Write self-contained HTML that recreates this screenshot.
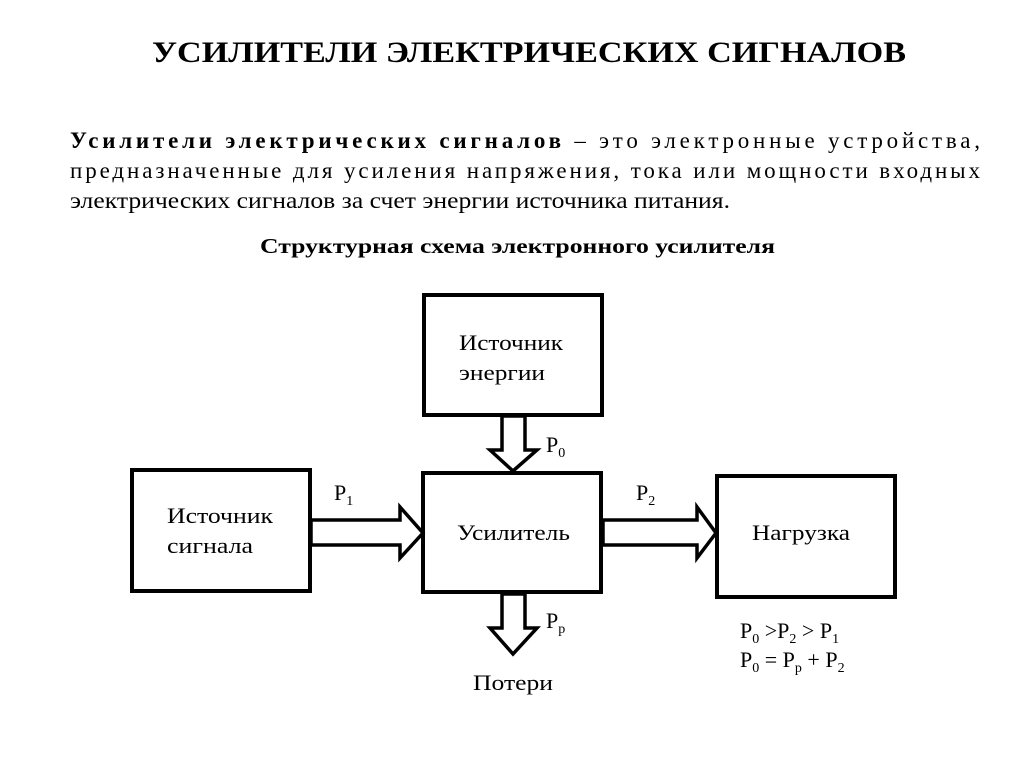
<!DOCTYPE html>
<html><head><meta charset="utf-8"><style>html,body{margin:0;padding:0;background:#fff}</style></head>
<body>
<svg width="1024" height="767" viewBox="0 0 1024 767" xmlns="http://www.w3.org/2000/svg" font-family="Liberation Serif, serif" fill="#000">
<rect width="1024" height="767" fill="#fff"/>
<text x="152" y="62" font-size="30" font-weight="bold" textLength="754" lengthAdjust="spacingAndGlyphs">УСИЛИТЕЛИ ЭЛЕКТРИЧЕСКИХ СИГНАЛОВ</text>
<g font-size="23">
<text x="70" y="148" textLength="910" lengthAdjust="spacing"><tspan font-weight="bold">Усилители  электрических  сигналов</tspan>  –  это  электронные  устройства,</text>
<text x="70" y="178" textLength="910" lengthAdjust="spacing">предназначенные  для  усиления  напряжения,  тока  или  мощности  входных</text>
<text x="70" y="208" textLength="660" lengthAdjust="spacingAndGlyphs">электрических сигналов за счет энергии источника питания.</text>
</g>
<text x="260" y="253" font-size="21" font-weight="bold" textLength="515" lengthAdjust="spacingAndGlyphs">Структурная схема электронного усилителя</text>
<g fill="none" stroke="#000" stroke-width="4">
<rect x="424" y="295" width="178" height="120"/>
<rect x="132" y="470" width="178" height="121"/>
<rect x="423" y="473" width="178" height="119"/>
<rect x="717" y="476" width="178" height="121"/>
</g>
<g fill="#fff" stroke="#000" stroke-width="3.5" stroke-linejoin="miter">
<polygon points="502,416 525,416 525,450 537,450 513,471 490,450 502,450"/>
<polygon points="502,594 525,594 525,628 537,628 513,654 490,628 502,628"/>
<polygon points="311,520 400,520 400,507 423,533 400,558 400,545 311,545"/>
<polygon points="603,520 697,520 697,507 716,533 697,558 697,545 603,545"/>
</g>
<g font-size="22">
<text x="459" y="350" textLength="104" lengthAdjust="spacingAndGlyphs">Источник</text>
<text x="459" y="380" textLength="86" lengthAdjust="spacingAndGlyphs">энергии</text>
<text x="167" y="523" textLength="106" lengthAdjust="spacingAndGlyphs">Источник</text>
<text x="167" y="553" textLength="86" lengthAdjust="spacingAndGlyphs">сигнала</text>
<text x="457" y="540" textLength="113" lengthAdjust="spacingAndGlyphs">Усилитель</text>
<text x="752" y="540" textLength="98" lengthAdjust="spacingAndGlyphs">Нагрузка</text>
<text x="473" y="690" textLength="80" lengthAdjust="spacingAndGlyphs">Потери</text>
<text x="546" y="452">P<tspan font-size="14" dy="5">0</tspan></text>
<text x="334" y="500">P<tspan font-size="14" dy="5">1</tspan></text>
<text x="636" y="500">P<tspan font-size="14" dy="5">2</tspan></text>
<text x="546" y="628">P<tspan font-size="14" dy="5">p</tspan></text>
<text x="740" y="638">P<tspan font-size="14" dy="5">0</tspan><tspan dy="-5"> &gt;P</tspan><tspan font-size="14" dy="5">2</tspan><tspan dy="-5"> &gt; P</tspan><tspan font-size="14" dy="5">1</tspan></text>
<text x="740" y="667">P<tspan font-size="14" dy="5">0</tspan><tspan dy="-5"> = P</tspan><tspan font-size="14" dy="5">p</tspan><tspan dy="-5"> + P</tspan><tspan font-size="14" dy="5">2</tspan></text>
</g>
</svg>
</body></html>
